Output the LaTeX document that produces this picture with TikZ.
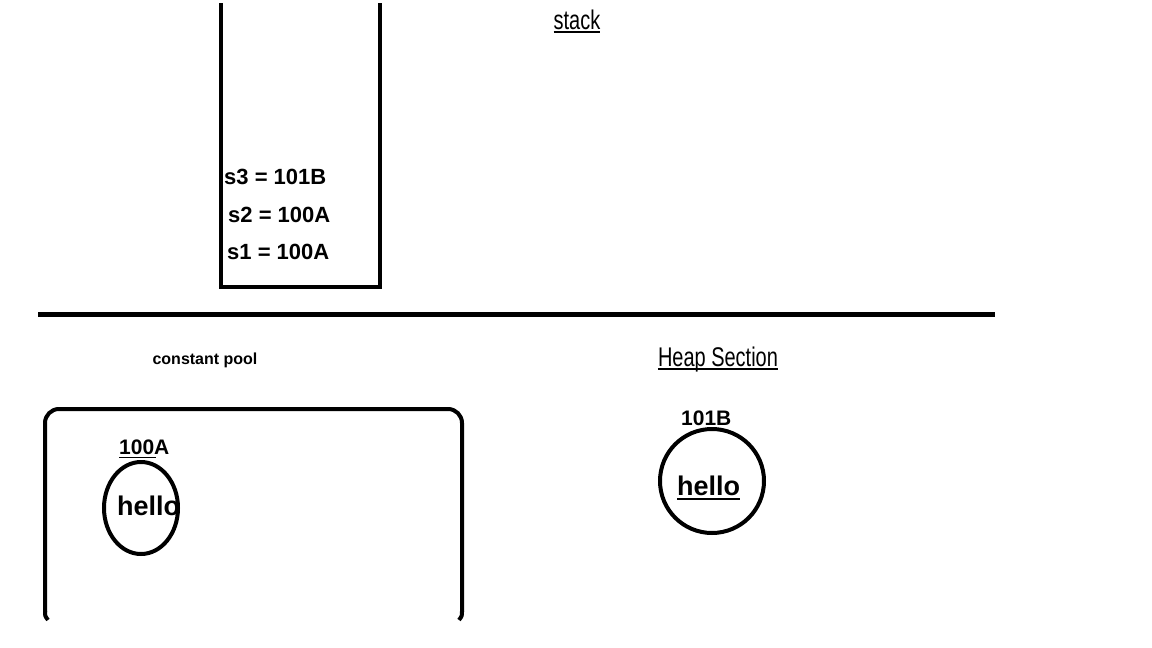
\documentclass[tikz,border=0pt]{standalone}
\usepackage{fontspec}
\setmainfont{Liberation Sans}
\usetikzlibrary{shapes.geometric}
\begin{document}
\begin{tikzpicture}[x=1pt,y=-1pt,
  thick line/.style={line width=4pt},
  stacktxt/.style={font=\fontsize{22}{26}\selectfont\bfseries, anchor=base west, inner sep=0pt},
  title/.style={font=\fontsize{27}{30}\selectfont, inner sep=0pt, anchor=base, xscale=0.74, transform shape},
  hellotxt/.style={font=\fontsize{27}{30}\selectfont\bfseries, inner sep=0pt, anchor=base west},
  addr/.style={font=\fontsize{21}{24}\selectfont\bfseries, inner sep=0pt, anchor=base west},
  uline/.style={line width=1.5pt}
]
\useasboundingbox[fill=white] (0,0) rectangle (1152,648);
% stack
\draw[thick line, line cap=rect] (221,5) -- (221,287) -- (380,287) -- (380,5);
\node[stacktxt] (s3) at (224,184) {s3 = 101B};
\node[stacktxt] (s2) at (228,222) {s2 = 100A};
\node[stacktxt] (s1) at (227,259) {s1 = 100A};
\node[title] (stk) at (577,29) {stack};
\draw[uline] ([yshift=-3pt]stk.base west) -- ([yshift=-3pt]stk.base east);
% divider
\draw[line width=5pt] (38,314) -- (995,314);
% constant pool
\node[font=\fontsize{16}{19}\selectfont\bfseries, inner sep=0pt, anchor=base] (cp) at (205,364) {constant pool};
\draw[thick line, rounded corners=14pt] (45,612) -- (45,409) -- (462,409) -- (462,612);
\draw[thick line] (45,611) .. controls (45,616) .. (48,620);
\draw[thick line] (462,611) .. controls (462,616) .. (459,620);
\node[addr] (a100) at (119,454) {100A};
\draw[line width=1pt] ([yshift=-3pt]a100.base west) -- ([xshift=-14pt,yshift=-3pt]a100.base east);
\node[draw, line width=4pt, ellipse, minimum width=74pt, minimum height=92pt, inner sep=0pt] (c1) at (141,508) {};
\node[hellotxt] (h1) at (117,515) {hello};
% heap
\node[title] (heap) at (718,366) {Heap Section};
\draw[uline] ([yshift=-3pt]heap.base west) -- ([yshift=-3pt]heap.base east);
\node[addr] (b101) at (681,425) {101B};
\node[draw, line width=4pt, circle, minimum size=104pt, inner sep=0pt] (c2) at (712,481) {};
\node[hellotxt] (h2) at (677,495) {hello};
\draw[uline] ([yshift=-4pt]h2.base west) -- ([yshift=-4pt]h2.base east);
\end{tikzpicture}
\end{document}
